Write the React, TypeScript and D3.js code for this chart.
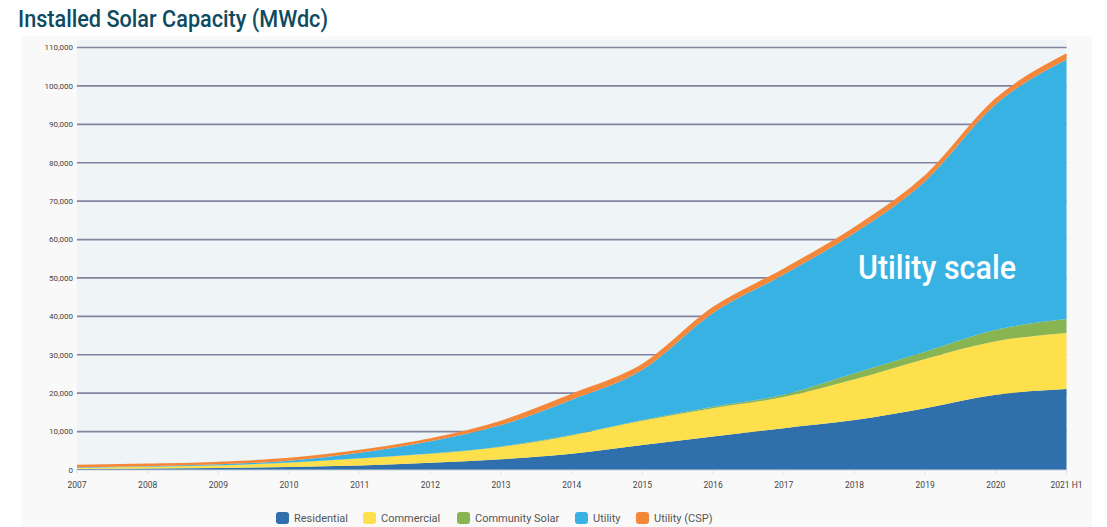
import React from "react";
import * as d3 from "d3";

// installed capacity, MWdc (cumulative)
const years = ["2007", "2008", "2009", "2010", "2011", "2012", "2013", "2014", "2015", "2016", "2017", "2018", "2019", "2020", "2021 H1"];
const residential = [250, 400, 550, 800, 1200, 1900, 2800, 4200, 6500, 8700, 10900, 13000, 16100, 19600, 21100];
const commercial = [300, 450, 650, 1100, 1800, 2300, 3200, 4800, 6300, 7400, 8100, 10600, 12800, 13900, 14600];
const communitySolar = [10, 10, 20, 30, 50, 80, 120, 150, 200, 400, 600, 1600, 1900, 3000, 3600];
const utility = [140, 120, 250, 500, 1450, 3220, 5580, 9150, 13100, 24400, 31300, 36500, 44400, 58700, 67600];
const utilityCSP = [420, 420, 430, 470, 500, 500, 900, 1300, 1300, 1300, 1300, 1300, 1300, 1300, 1300];

const seriesNames = ["Residential", "Commercial", "Community Solar", "Utility", "Utility (CSP)"];
const seriesColors = ["#2e6fac", "#fedf4c", "#88b452", "#38b2e3", "#f5873a"];
const yTicks = d3.range(0, 110001, 10000);

const W = 1107;
const H = 527;
const plot = { left: 77, right: 1066.5, top: 40, bottom: 470 };

export default function App() {
  const table = years.map((year, i) => ({
    year,
    Residential: residential[i],
    Commercial: commercial[i],
    "Community Solar": communitySolar[i],
    Utility: utility[i],
    "Utility (CSP)": utilityCSP[i],
  }));

  const x = d3.scalePoint<string>().domain(years).range([plot.left, plot.right]);
  const y = d3.scaleLinear().domain([0, 110000]).range([plot.bottom, 47.5]);

  const stacked = d3.stack<any>().keys(seriesNames)(table);

  const area = d3
    .area<any>()
    .x((d) => x(d.data.year)!)
    .y0((d) => y(d[0]))
    .y1((d) => y(d[1]))
    .curve(d3.curveMonotoneX);

  const topLine = d3
    .line<any>()
    .x((d) => x(d.data.year)!)
    .y((d) => y(d[1]))
    .curve(d3.curveMonotoneX);

  const fmt = d3.format(",");

  // legend layout
  const legendX = [276, 363, 457, 575, 636];

  return (
    <svg
      width={W}
      height={H}
      style={{ position: "absolute", left: 0, top: 0, background: "#ffffff" }}
      fontFamily="Roboto, 'Noto Sans', sans-serif"
    >
      <text
        x={18}
        y={27}
        fontSize={23}
        fontWeight={500}
        fill="#0e4a60"
        textLength={310}
        lengthAdjust="spacingAndGlyphs"
      >
        Installed Solar Capacity (MWdc)
      </text>

      <rect x={22} y={36} width={1070} height={H - 36} fill="#f9f9f9" />
      <rect x={plot.left} y={plot.top} width={plot.right - plot.left} height={plot.bottom - plot.top} fill="#eff4f7" />

      {yTicks.map((t) => (
        <g key={t}>
          {t > 0 && (
            <line x1={plot.left} x2={plot.right} y1={y(t)} y2={y(t)} stroke="#85829f" strokeWidth={1.7} />
          )}
          <text x={73} y={y(t)} dy="0.35em" textAnchor="end" fontSize={8} fill="#444">
            {fmt(t)}
          </text>
        </g>
      ))}

      {stacked.map((s, i) => (
        <path key={s.key} d={area(s) || ""} fill={seriesColors[i]} />
      ))}
      <path d={topLine(stacked[4]) || ""} fill="none" stroke={seriesColors[4]} strokeWidth={2} />

      <line x1={plot.left} x2={plot.right} y1={plot.bottom} y2={plot.bottom} stroke="#c8d2dd" strokeWidth={1} />
      {years.map((yr) => (
        <g key={yr}>
          <line x1={x(yr)} x2={x(yr)} y1={plot.bottom} y2={plot.bottom + 4} stroke="#dde3ea" />
          <text x={x(yr)} y={488} textAnchor="middle" fontSize={8.5} fill="#444">
            {yr}
          </text>
        </g>
      ))}

      <text
        x={858}
        y={279}
        fontSize={33}
        fontWeight={500}
        fill="#ffffff"
        textLength={158}
        lengthAdjust="spacingAndGlyphs"
      >
        Utility scale
      </text>

      {seriesNames.map((name, i) => (
        <g key={name} transform={`translate(${legendX[i]},512)`}>
          <rect width={13} height={12} rx={3} fill={seriesColors[i]} />
          <text x={18} y={6} dy="0.35em" fontSize={11} fill="#555">
            {name}
          </text>
        </g>
      ))}
    </svg>
  );
}
